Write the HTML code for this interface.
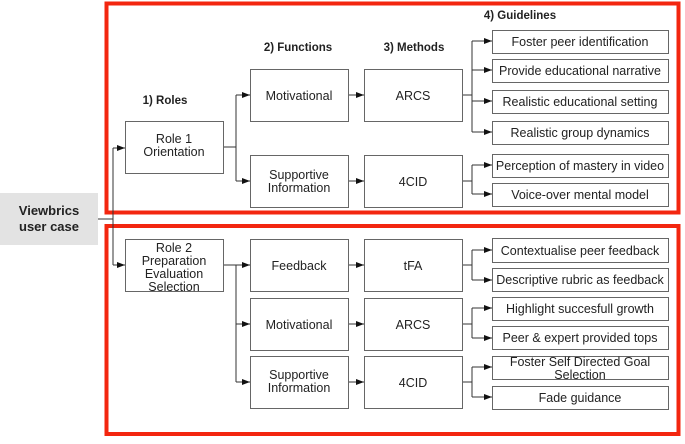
<!DOCTYPE html>
<html><head><meta charset="utf-8"><style>
body{margin:0;background:#fff}
svg text{font-family:"Liberation Sans",sans-serif;fill:#222}
</style></head><body>
<svg width="685" height="439" viewBox="0 0 685 439" xmlns="http://www.w3.org/2000/svg">
<defs><marker id="a" markerWidth="8" markerHeight="6" refX="8" refY="3" orient="auto" markerUnits="userSpaceOnUse"><path d="M0,0L8,3L0,6z" fill="#111"/></marker></defs>
<rect x="0" y="193" width="98" height="52" fill="#e3e3e3"/>
<text x="49" y="215" font-size="13" font-weight="bold" text-anchor="middle">Viewbrics</text>
<text x="49" y="231" font-size="13" font-weight="bold" text-anchor="middle">user case</text>
<rect x="106.5" y="3.5" width="572" height="209" fill="none" stroke="#f3260f" stroke-width="4"/>
<rect x="106.5" y="226" width="572" height="208" fill="none" stroke="#f3260f" stroke-width="4"/>
<g font-size="11.5" font-weight="bold">
<text x="165" y="104" text-anchor="middle">1) Roles</text>
<text x="298" y="51" text-anchor="middle">2) Functions</text>
<text x="414" y="51" text-anchor="middle">3) Methods</text>
<text x="520" y="19" text-anchor="middle">4) Guidelines</text>
</g>
<g stroke="#333" fill="none" stroke-width="1">
<path d="M98,219H113M113,148V265"/>
<path d="M223,147H236V95M236,147V181"/>
<path d="M223,265H236V382"/>
<path d="M462,95H472M472,41V132M462,181H472M472,165V194M462,265H472M472,250V280M462,324H472M472,308V338M462,382H472M472,367V397"/>
</g>
<g stroke="#333" fill="none" stroke-width="1" marker-end="url(#a)">
<line x1="113" y1="148" x2="125" y2="148"/>
<line x1="113" y1="265" x2="125" y2="265"/>
<line x1="236" y1="95" x2="250" y2="95"/>
<line x1="236" y1="181" x2="250" y2="181"/>
<line x1="236" y1="265" x2="250" y2="265"/>
<line x1="236" y1="324" x2="250" y2="324"/>
<line x1="236" y1="382" x2="250" y2="382"/>
<line x1="348" y1="95" x2="364" y2="95"/>
<line x1="348" y1="181" x2="364" y2="181"/>
<line x1="348" y1="265" x2="364" y2="265"/>
<line x1="348" y1="324" x2="364" y2="324"/>
<line x1="348" y1="382" x2="364" y2="382"/>
<line x1="472" y1="41" x2="492" y2="41"/>
<line x1="472" y1="70" x2="492" y2="70"/>
<line x1="472" y1="101" x2="492" y2="101"/>
<line x1="472" y1="132" x2="492" y2="132"/>
<line x1="472" y1="165" x2="492" y2="165"/>
<line x1="472" y1="194" x2="492" y2="194"/>
<line x1="472" y1="250" x2="492" y2="250"/>
<line x1="472" y1="280" x2="492" y2="280"/>
<line x1="472" y1="308" x2="492" y2="308"/>
<line x1="472" y1="338" x2="492" y2="338"/>
<line x1="472" y1="367" x2="492" y2="367"/>
<line x1="472" y1="397" x2="492" y2="397"/>
</g>
<g fill="#fff" stroke="#666" stroke-width="1">
<rect x="125.5" y="121.5" width="98" height="52"/>
<rect x="125.5" y="239.5" width="98" height="52"/>
<rect x="250.5" y="69.5" width="98" height="52"/>
<rect x="250.5" y="155.5" width="98" height="52"/>
<rect x="250.5" y="239.5" width="98" height="52"/>
<rect x="250.5" y="298.5" width="98" height="52"/>
<rect x="250.5" y="356.5" width="98" height="52"/>
<rect x="364.5" y="69.5" width="98" height="52"/>
<rect x="364.5" y="155.5" width="98" height="52"/>
<rect x="364.5" y="239.5" width="98" height="52"/>
<rect x="364.5" y="298.5" width="98" height="52"/>
<rect x="364.5" y="356.5" width="98" height="52"/>
<rect x="492.5" y="30.5" width="176" height="23"/>
<rect x="492.5" y="59.5" width="176" height="23"/>
<rect x="492.5" y="90.5" width="176" height="23"/>
<rect x="492.5" y="121.5" width="176" height="23"/>
<rect x="492.5" y="154.5" width="176" height="23"/>
<rect x="492.5" y="183.5" width="176" height="23"/>
<rect x="492.5" y="238.5" width="176" height="24"/>
<rect x="492.5" y="268.5" width="176" height="23"/>
<rect x="492.5" y="297.5" width="176" height="23"/>
<rect x="492.5" y="326.5" width="176" height="23"/>
<rect x="492.5" y="356.5" width="176" height="23"/>
<rect x="492.5" y="386.5" width="176" height="23"/>
</g>
<g font-size="12.5" text-anchor="middle">
<text x="174" y="143">Role 1</text><text x="174" y="156">Orientation</text>
<text x="174" y="252">Role 2</text><text x="174" y="265">Preparation</text><text x="174" y="278">Evaluation</text><text x="174" y="291">Selection</text>
<text x="299" y="100">Motivational</text>
<text x="299" y="179">Supportive</text><text x="299" y="192">Information</text>
<text x="299" y="270">Feedback</text>
<text x="299" y="329">Motivational</text>
<text x="299" y="379">Supportive</text><text x="299" y="392">Information</text>
<text x="413" y="100">ARCS</text>
<text x="413" y="186">4CID</text>
<text x="413" y="270">tFA</text>
<text x="413" y="329">ARCS</text>
<text x="413" y="387">4CID</text>
<text x="580" y="46">Foster peer identification</text>
<text x="580" y="75">Provide educational narrative</text>
<text x="580" y="106">Realistic educational setting</text>
<text x="580" y="137">Realistic group dynamics</text>
<text x="580" y="170">Perception of mastery in video</text>
<text x="580" y="199">Voice-over mental model</text>
<text x="580" y="255">Contextualise peer feedback</text>
<text x="580" y="284">Descriptive rubric as feedback</text>
<text x="580" y="313">Highlight succesfull growth</text>
<text x="580" y="342">Peer &amp; expert provided tops</text>
<text x="580" y="366">Foster Self Directed Goal</text><text x="580" y="379">Selection</text>
<text x="580" y="402">Fade guidance</text>
</g>
</svg>
</body></html>
